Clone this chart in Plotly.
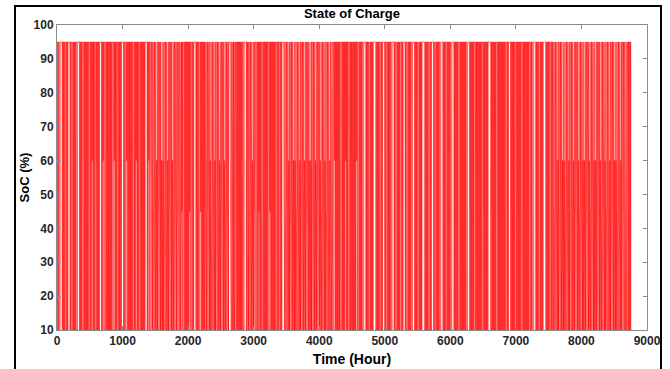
import plotly.graph_objects as go

# ---- data (read/estimated from the reference picture) ----
# One code per day of the year (365 days); each code names an hourly SoC profile.
day_codes = (
    "FfHFFfFHFf" "FFfHFFfF"
    "FbfFBFfbFH" "FBfFbFFfBF" "fbFHFfBFbF" "fFBFfbFFHF" "Bf"
    "CACCACCCAC" "CACCACAC"
    "FAfFaFAfFH" "FafAFF"
    "CACCACCACC" "ACCACHC"
    "FafFFaFfHF"
    "CACCA"
    "fFAFfaFFfA" "FFafFfFH"
    "CACCACCCAC" "CACCACCCAC" "CACCACCACC"
    "FfBFFbfFFB" "FfFbFFBfF"
    "FfHFFfFFHf" "FFfFHFfFFf" "HFfFFfFHFf" "FFfHFFfFFH" "fFFfFHFfFF" "fHFFfFFfHF"
    "FafFFaFfHF" "aFfFaFFfaF" "FHfaFFfaFF" "FafFHFaFfF" "aFfFaFFf"
    "FfHFFfFFHfFFfF"
    "CACCACCCAC" "CACCACCACC" "CACCACCCAC" "CACCACCACC" "CACCAC"
    "FfFF"
)

# daily SoC profiles: (SoC level %, number of hours)
profile_F = [(95, 5), (10, 7), (95, 5), (10, 7)]
profile_f = [(95, 12), (10, 12)]
profile_H = [(95, 24)]
profile_A = [(95, 5), (45, 7), (95, 5), (10, 7)]
profile_a = [(95, 4), (45, 4), (10, 4), (95, 4), (10, 8)]
profile_B = [(95, 5), (60, 7), (95, 5), (10, 7)]
profile_b = [(95, 4), (60, 4), (10, 4), (95, 4), (10, 8)]
profile_C = [(95, 3), (60, 2), (45, 2), (60, 2), (45, 2), (60, 2), (45, 2),
             (10, 3), (95, 3), (10, 3)]
profiles = {"F": profile_F, "f": profile_f, "H": profile_H, "A": profile_A,
            "a": profile_a, "B": profile_B, "b": profile_b, "C": profile_C}

x_ticks = [0, 1000, 2000, 3000, 4000, 5000, 6000, 7000, 8000, 9000]
y_ticks = [10, 20, 30, 40, 50, 60, 70, 80, 90, 100]

# ---- build hourly series ----
soc = []
for code in day_codes:
    for level, hours in profiles[code]:
        soc.extend([level] * hours)
soc = soc[:8760]
hours_axis = list(range(1, len(soc) + 1))

fig = go.Figure()
fig.add_trace(go.Scatter(x=hours_axis, y=soc, mode="lines",
                         line=dict(color="#ff0000", width=0.55),
                         showlegend=False, hoverinfo="skip"))

tick_font = dict(family="Liberation Sans, Arial, sans-serif", size=12,
                 color="#262626", weight="bold")
axis_common = dict(showgrid=False, zeroline=False, showline=True, mirror="ticks",
                   linecolor="#8c8c8c", linewidth=1, ticks="inside", ticklen=4,
                   tickcolor="#8c8c8c", tickfont=tick_font, automargin=False)

fig.update_layout(
    width=670, height=369,
    paper_bgcolor="white", plot_bgcolor="white",
    margin=dict(l=57, r=23, t=25, b=39, autoexpand=False),
    title=dict(text="State of Charge", x=352 / 670, xanchor="center",
               y=1 - 13 / 369, yanchor="middle", yref="container",
               automargin=False,
               font=dict(family="Liberation Sans, Arial, sans-serif", size=13,
                         color="black", weight="bold")),
    xaxis=dict(range=[0, 9000], tickvals=x_ticks,
               title=dict(text="Time (Hour)", standoff=6,
                          font=dict(family="Liberation Sans, Arial, sans-serif",
                                    size=14, color="black", weight="bold")),
               **axis_common),
    yaxis=dict(range=[10, 100], tickvals=y_ticks,
               title=dict(text="SoC (%)", standoff=1,
                          font=dict(family="Liberation Sans, Arial, sans-serif",
                                    size=13, color="black", weight="bold")),
               **axis_common),
    shapes=[dict(type="rect", xref="paper", yref="paper",
                 x0=-42 / 590, x1=604 / 590, y0=-45 / 305, y1=324 / 305,
                 line=dict(color="black", width=2), layer="below")],
)

fig.write_html("out.html",
               config={"displayModeBar": False},
               post_script="document.body.style.margin='0';"
                           "document.body.style.overflow='hidden';")
